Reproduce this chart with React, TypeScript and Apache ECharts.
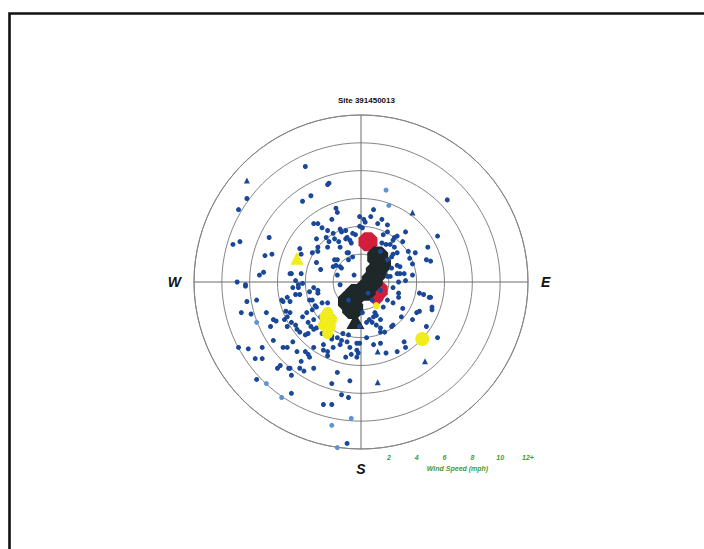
import React, { useEffect, useRef } from "react";
import * as echarts from "echarts";

// Wind vectors as [east component, north component] in mph.
const blueDots: number[][] = [
  [-4.0, 8.3], [-2.3, 7.1], [-2.4, 7.0], [-8.2, 6.0], [-8.8, 5.2], [-3.6, 6.2], [-4.2, 5.8],
  [-1.8, 5.3], [-1.7, 5.0], [-2.1, 4.5], [-3.4, 4.2], [-3.1, 4.2], [-2.8, 3.9], [-0.6, 3.5],
  [-1.1, 3.7], [-6.6, 3.2], [-8.7, 2.9], [-9.2, 2.7], [-3.2, 3.1], [-2.5, 3.2], [-2.3, 2.9],
  [-1.9, 3.1], [-1.6, 2.9], [-1.1, 3.1], [-0.7, 2.8], [-4.4, 2.4], [-4.3, 2.0], [-3.1, 2.2],
  [-6.4, 2.0], [-6.9, 1.9], [-2.4, 2.5], [-0.9, 2.1], [-1.7, 1.6], [-1.8, 1.2], [-1.5, 1.1],
  [-0.6, 1.8], [-0.5, 0.5], [-2.9, 0.9], [-4.3, 0.6], [-5.0, 0.6], [-7.0, 0.7], [-7.3, 0.5],
  [-4.7, 0.1], [-4.5, -0.2], [-4.2, -0.1], [-8.9, 0.0], [-8.3, -0.3], [-1.4, 3.6], [-1.0, 3.2],
  [6.2, 5.9], [0.9, 5.2], [0.7, 4.7], [1.5, 4.5], [1.2, 4.2], [1.9, 4.1], [0.3, 4.3],
  [-0.1, 4.7], [3.2, 3.6], [1.6, 3.4], [2.6, 3.3], [2.3, 3.0], [5.5, 3.3], [2.1, 2.7],
  [2.4, 2.5], [1.8, 2.7], [3.0, 2.9], [4.8, 2.5], [3.4, 2.2], [3.9, 2.1], [5.0, 1.5],
  [2.3, 2.0], [3.7, 1.3], [2.6, 1.2], [2.8, 0.6], [3.1, 0.6], [3.7, 0.5], [2.1, 0.4],
  [2.7, 0.0], [0.1, 3.9], [0.2, 4.5],
  [-8.3, -0.2], [-7.5, -1.3], [-8.2, -1.4], [-8.6, -2.2], [-7.9, -2.3], [-6.8, -2.2],
  [-6.3, -2.7], [-6.1, -2.8], [-6.5, -3.2], [-5.7, -1.3], [-5.1, -1.4], [-4.7, -0.9],
  [-4.5, -0.4], [-3.7, -0.7], [-3.1, -0.8], [-5.4, -2.1], [-5.3, -2.5], [-5.0, -2.9],
  [-4.7, -3.1], [-4.4, -3.6], [-3.8, -3.7], [-3.4, -2.7], [-3.9, -2.2], [-3.8, -2.9],
  [-3.6, -3.2], [-3.2, -3.3], [-3.5, -2.0], [-3.2, -1.8], [-2.8, -1.5], [-2.4, -1.5],
  [-2.9, -2.5], [-2.7, -4.5], [-2.7, -4.9], [-2.0, -4.7], [-2.1, -4.1], [-1.7, -4.0],
  [-1.5, -4.5], [-1.0, -4.3], [-0.7, -5.2], [-0.3, -5.4], [-0.3, -4.9], [-2.4, -5.3],
  [-0.3, -4.4], [-0.9, -3.8], [-6.3, -4.2], [-5.3, -4.7], [-4.9, -4.3], [-4.6, -5.0],
  [-4.0, -5.0], [-3.8, -5.2], [-3.7, -5.4], [-4.3, -5.7], [-3.4, -6.2], [-4.1, -6.4],
  [-4.4, -6.2], [-5.1, -6.2], [-5.2, -6.2], [-6.0, -6.2], [-5.8, -6.0], [-5.0, -6.7],
  [-7.6, -5.5], [-7.1, -5.5], [-7.1, -4.7], [-8.1, -4.8], [-8.8, -4.7], [-7.5, -7.0],
  [-5.0, -8.0], [-1.7, -6.5], [-2.1, -7.3], [-0.8, -7.1], [-1.4, -8.1], [-0.9, -8.3],
  [-2.7, -8.8], [-2.1, -8.8], [-1.0, -11.6], [-4.4, -0.9], [-3.7, -1.3], [-2.3, -3.2],
  [-2.1, -3.9],
  [4.2, -0.8], [4.5, -0.9], [4.9, -1.1], [2.7, -0.8], [2.7, -1.1], [4.2, -2.1], [5.1, -1.8],
  [3.0, -1.9], [2.9, -2.5], [2.2, -3.2], [1.0, -2.2], [0.9, -2.5], [0.6, -2.7], [0.4, -2.9],
  [1.1, -3.1], [1.4, -3.6], [3.1, -4.3], [1.8, -5.1], [-0.1, -3.2], [0.1, -2.2],
  [-2.4, 3.7], [-2.0, 3.5], [-1.5, 3.8], [-0.4, 3.4], [-0.1, 4.0], [1.9, 3.6], [2.4, 3.2],
  [1.5, 2.8], [1.4, 2.2], [2.6, 2.1], [2.2, 1.8], [1.9, 1.6], [2.8, 1.1], [3.5, 1.7],
  [4.7, 1.6], [2.2, 1.0], [2.6, 0.6], [3.2, 0.1], [1.9, 0.4], [1.4, -0.6], [2.3, -0.4],
  [1.9, -1.3], [2.3, -1.5], [1.6, -1.8], [1.1, -2.4], [1.4, -2.7], [0.8, -2.9], [1.4, -3.3],
  [1.7, -3.6], [2.3, -3.1], [3.7, -2.7], [4.0, -2.2], [5.1, -2.0], [4.7, -3.2], [5.0, -1.1],
  [5.5, -4.0], [3.2, -4.7], [2.6, -5.0], [1.4, -4.4], [0.9, -4.5],
  [-0.8, 3.0], [-1.5, 2.5], [-1.0, 2.1], [-0.9, 1.6], [-1.9, 1.6], [-2.0, 1.1], [-1.4, 1.0],
  [-1.7, 0.5], [-1.5, -0.2], [-3.2, 1.4], [-3.5, 2.1], [-3.1, 2.5], [-5.1, 0.6], [-4.9, -0.4],
  [-5.3, -1.1], [-3.4, -0.4], [-3.1, -0.6], [-3.5, -1.3], [-3.3, -1.7], [-4.2, -2.5],
  [-5.1, -2.2], [-5.3, -3.2], [-4.6, -3.4], [-4.0, -3.8], [-3.4, -3.4], [-2.8, -3.7],
  [-1.4, -4.2], [-1.3, -3.7], [-0.8, -4.7], [-0.1, -4.4], [0.4, -4.0], [-0.2, -5.1],
  [-1.1, -5.4], [-2.4, -5.0], [-3.4, -4.7], [-5.6, -4.7], [-5.5, -2.7], [-5.6, -1.4],
  [-2.0, -2.5], [0.8, -1.3], [0.5, -0.8], [-0.9, -1.3],
];

// Paler readings in the same series
const paleBlueDots: number[][] = [
  [1.8, 6.6], [2.0, 5.5], [-7.5, -2.9], [-6.8, -7.3], [-5.7, -8.3], [-0.7, -9.8],
  [-2.1, -10.3], [-1.7, -11.9],
];

const blueTriangles: number[][] = [
  [-8.2, 7.3], [3.7, 5.0], [1.2, -5.0], [4.6, -5.7], [1.2, -7.2],
];

const redMarks: number[][] = [[0.5, 2.9], [1.2, -0.6], [1.1, -1.1]];
const redSizes = [19, 20, 14];

const darkMarks: number[][] = [
  [1.2, 1.8], [1.4, 1.3], [1.1, 0.7], [0.8, 0.1], [0.3, -0.6], [-0.4, -0.9], [-0.9, -1.4],
  [-0.6, -1.9],
];
const darkTriangle: number[][] = [[-0.4, -2.8]];

const yellowCluster: number[][] = [
  [-2.6, -2.5], [-2.1, -2.7], [-2.7, -3.1], [-2.2, -3.2], [-2.4, -2.2], [-2.4, -3.7],
];
const yellowSmall: number[][] = [[1.1, -1.7]];
const yellowCircle: number[][] = [[4.4, -4.1]];
const yellowTriangle: number[][] = [[-4.6, 1.7]];

const speedTicks = [0, 2, 4, 6, 8, 10, 12];
const compassLabels: Record<number, string> = { 90: "E", 180: "S", 270: "W" };

const TITLE = "Site 391450013";
const SPEED_NAME = "Wind Speed (mph)";

const BLUE = "#1a4898";
const PALE_BLUE = "#5e93d4";
const RED = "#d21d3b";
const DARK = "#1e2829";
const YELLOW = "#f1ec1c";
const RING = "#858585";
const GREEN = "#3f9a3c";

const CX = 361;
const CY = 282;
const R = 167;

const octagon = "path://M6,0 L14,0 L20,6 L20,14 L14,20 L6,20 L0,14 L0,6 Z";

export default function App() {
  const ref = useRef<HTMLDivElement>(null);

  useEffect(() => {
    document.body.style.margin = "0";
    const chart = echarts.init(ref.current!, undefined, { renderer: "svg" });
    const maxSpeed = speedTicks[speedTicks.length - 1];

    const scatter = (name: string, data: any[], color: string, extra: any) => ({
      name,
      type: "scatter",
      xAxisIndex: 0,
      yAxisIndex: 0,
      data,
      z: 3,
      itemStyle: { color, opacity: 1 },
      ...extra,
    });

    chart.setOption({
      animation: false,
      backgroundColor: "#ffffff",
      title: {
        text: TITLE,
        left: 333,
        top: 91,
        textStyle: {
          fontSize: 8,
          fontWeight: "bold",
          fontFamily: "Liberation Sans",
          color: "#111",
        },
      },
      polar: { center: [CX, CY], radius: R },
      angleAxis: {
        type: "value",
        min: 0,
        max: 360,
        interval: 90,
        startAngle: 90,
        clockwise: true,
        axisLine: { show: true, lineStyle: { color: RING, width: 1 } },
        axisTick: { show: false },
        axisLabel: {
          formatter: (v: number) => compassLabels[v] || "",
          fontSize: 14,
          fontWeight: "bold",
          fontStyle: "italic",
          fontFamily: "Liberation Sans",
          color: "#111",
          margin: 13,
        },
        splitLine: { show: true, lineStyle: { color: "#6c6c6c", width: 1 } },
      },
      radiusAxis: {
        type: "value",
        min: 0,
        max: maxSpeed,
        interval: 2,
        axisLine: { show: false },
        axisTick: { show: false },
        axisLabel: { show: false },
        splitLine: { show: true, lineStyle: { color: RING, width: 1 } },
      },
      grid: [
        { left: CX - R, top: CY - R, width: 2 * R, height: 2 * R },
        { left: CX, top: 447, width: R, height: 1 },
      ],
      xAxis: [
        { gridIndex: 0, type: "value", min: -maxSpeed, max: maxSpeed, show: false },
        {
          gridIndex: 1,
          type: "value",
          min: 0,
          max: maxSpeed,
          interval: 2,
          axisLine: { show: false },
          axisTick: { show: false },
          splitLine: { show: false },
          axisLabel: {
            formatter: (v: number) =>
              v === 0 ? "" : v === maxSpeed ? `${v}+` : String(v),
            fontSize: 7,
            fontStyle: "italic",
            fontWeight: "bold",
            fontFamily: "Liberation Sans",
            color: GREEN,
            margin: 6,
          },
          name: SPEED_NAME,
          nameLocation: "middle",
          nameGap: 17,
          nameTextStyle: {
            fontSize: 7,
            fontStyle: "italic",
            fontWeight: "bold",
            fontFamily: "Liberation Sans",
            color: GREEN,
            padding: [0, 0, 0, 26],
          },
        },
      ],
      yAxis: [
        { gridIndex: 0, type: "value", min: -maxSpeed, max: maxSpeed, show: false },
        { gridIndex: 1, type: "value", min: 0, max: 1, show: false },
      ],
      graphic: [
        {
          type: "rect",
          shape: { x: 9.5, y: 13.5, width: 720, height: 560 },
          style: { fill: "none", stroke: "#111", lineWidth: 2.6 },
          z: 100,
        },
      ],
      series: [
        scatter(
          "red",
          redMarks.map((p, i) => ({ value: p, symbolSize: redSizes[i] })),
          RED,
          { symbol: octagon }
        ),
        scatter("dark", darkMarks, DARK, { symbol: octagon, symbolSize: 21 }),
        scatter("darkTriangle", darkTriangle, DARK, {
          symbol: "triangle",
          symbolSize: [18, 16],
        }),
        scatter("blue", blueDots, BLUE, { symbol: "circle", symbolSize: 5 }),
        scatter("paleBlue", paleBlueDots, PALE_BLUE, { symbol: "circle", symbolSize: 5 }),
        scatter("blueTriangles", blueTriangles, BLUE, { symbol: "triangle", symbolSize: 6 }),
        scatter("yellowCluster", yellowCluster, YELLOW, { symbol: "circle", symbolSize: 11 }),
        scatter("yellowSmall", yellowSmall, YELLOW, { symbol: "circle", symbolSize: 7 }),
        scatter("yellowCircle", yellowCircle, YELLOW, { symbol: "circle", symbolSize: 14 }),
        scatter("yellowTriangle", yellowTriangle, YELLOW, { symbol: "triangle", symbolSize: 13 }),
      ],
    });

    return () => chart.dispose();
  }, []);

  return <div ref={ref} style={{ width: 704, height: 549 }} />;
}
